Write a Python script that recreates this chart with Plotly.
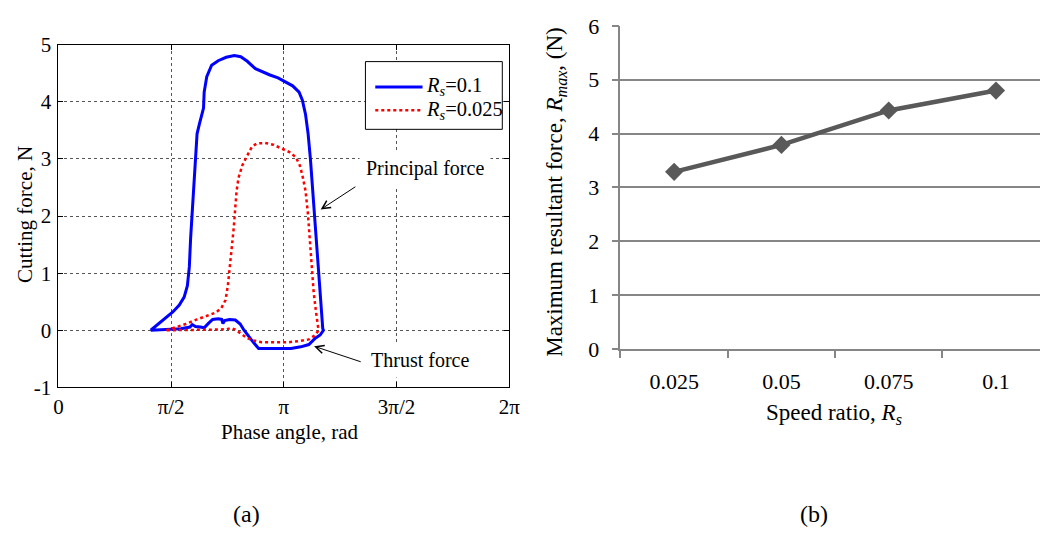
import math
import plotly.graph_objects as go

W, H = 1051, 543


def px(x):
    return x / W


def py(y):
    return 1 - y / H


# ---------------- data: (a) cutting force vs phase angle ----------------
# R_s = 0.1 : principal force (upper branch), then thrust force (lower branch, going back)
blue_principal_phase = [1.286, 1.368, 1.48, 1.594, 1.684, 1.752, 1.797, 1.824, 1.842, 1.865, 1.887,
                        1.91, 1.932, 1.964, 1.991, 2.022, 2.031, 2.067, 2.135, 2.226, 2.338, 2.451,
                        2.541, 2.632, 2.745, 2.835, 2.948, 3.061, 3.151, 3.264, 3.354, 3.40, 3.444,
                        3.48, 3.512, 3.544, 3.571, 3.602, 3.634, 3.661, 3.684]
blue_principal_force = [0.0, 0.083, 0.19, 0.32, 0.44, 0.58, 0.78, 1.11, 1.61, 2.11, 2.67,
                        3.17, 3.44, 3.61, 3.75, 3.89, 4.17, 4.44, 4.64, 4.72, 4.78, 4.81,
                        4.79, 4.71, 4.58, 4.53, 4.47, 4.42, 4.36, 4.28, 4.17, 4.03, 3.78,
                        3.44, 3.0, 2.44, 1.89, 1.33, 0.78, 0.33, 0.03]
blue_thrust_phase = [3.693, 3.648, 3.58, 3.49, 3.377, 3.242, 3.061, 2.926, 2.79, 2.722, 2.654,
                     2.587, 2.533, 2.465, 2.384, 2.316, 2.293, 2.275, 2.226, 2.149, 2.09, 2.031,
                     1.977, 1.91, 1.865, 1.833, 1.706, 1.526, 1.368, 1.286]
blue_thrust_force = [0.0, -0.083, -0.14, -0.25, -0.29, -0.32, -0.32, -0.32, -0.32, -0.22, -0.11,
                     0.0, 0.11, 0.18, 0.19, 0.17, 0.12, 0.19, 0.2, 0.19, 0.12, 0.044,
                     0.056, 0.067, 0.1, 0.056, 0.028, 0.017, 0.011, 0.0]

# R_s = 0.025
red_principal_phase = [1.503, 1.616, 1.774, 1.932, 2.09, 2.194, 2.271, 2.329, 2.361, 2.384, 2.415,
                       2.442, 2.465, 2.483, 2.51, 2.564, 2.632, 2.70, 2.767, 2.88, 2.993, 3.106,
                       3.219, 3.309, 3.363, 3.399, 3.444, 3.476, 3.503, 3.526, 3.557, 3.589,
                       3.612, 3.625]
red_principal_force = [0.0, 0.044, 0.11, 0.19, 0.26, 0.31, 0.39, 0.53, 0.78, 1.11, 1.44,
                       1.78, 2.11, 2.44, 2.67, 2.89, 3.06, 3.22, 3.27, 3.28, 3.25, 3.19,
                       3.12, 3.03, 2.89, 2.72, 2.44, 2.06, 1.61, 1.11, 0.67, 0.33,
                       0.083, 0.0]
red_thrust_phase = [3.58, 3.49, 3.354, 3.196, 3.016, 2.835, 2.722, 2.632, 2.542, 2.465, 2.406,
                    2.338, 2.158, 1.932, 1.706, 1.503]
red_thrust_force = [-0.083, -0.16, -0.19, -0.21, -0.21, -0.21, -0.18, -0.14, -0.056, 0.011, 0.039,
                    0.017, 0.011, 0.011, 0.006, 0.0]

phase_tick_vals = [0, math.pi / 2, math.pi, 3 * math.pi / 2, 2 * math.pi]
phase_tick_text = ["0", "π/2", "π", "3π/2", "2π"]
force_tick_vals = [-1, 0, 1, 2, 3, 4, 5]
force_tick_text = ["-1", "0", "1", "2", "3", "4", "5"]

# ---------------- data: (b) max resultant force vs speed ratio ----------------
speed_ratio = ["0.025", "0.05", "0.075", "0.1"]
max_resultant_force = [3.29, 3.79, 4.43, 4.80]

FONT = "Liberation Serif"
GRID_GRAY = "#868686"
DARK = "#595959"
FS_A = 21      # panel (a) font size
FS_B = 22      # panel (b) tick font size
FS_B_T = 23    # panel (b) title font size

fig = go.Figure()

fig.add_trace(go.Scatter(
    x=blue_principal_phase + blue_thrust_phase,
    y=blue_principal_force + blue_thrust_force,
    mode="lines", line=dict(color="#0000ff", width=3),
    xaxis="x", yaxis="y", showlegend=False, name="R_s=0.1"))
fig.add_trace(go.Scatter(
    x=red_principal_phase + red_thrust_phase,
    y=red_principal_force + red_thrust_force,
    mode="lines", line=dict(color="#ff0000", width=2.5, dash="dot"),
    xaxis="x", yaxis="y", showlegend=False, name="R_s=0.025"))
fig.add_trace(go.Scatter(
    x=speed_ratio, y=max_resultant_force,
    mode="lines+markers", line=dict(color=DARK, width=4.5),
    marker=dict(symbol="diamond", size=14, color=DARK),
    xaxis="x2", yaxis="y2", showlegend=False, cliponaxis=False))

left_axis_common = dict(
    showline=True, linecolor="black", linewidth=1, mirror="ticks",
    ticks="inside", ticklen=5, tickcolor="black",
    showgrid=True, gridcolor="#555555", gridwidth=1, griddash="dot",
    zeroline=False, tickfont=dict(family=FONT, size=FS_A, color="black"),
)

fig.update_layout(
    width=W, height=H,
    margin=dict(l=0, r=0, t=0, b=0),
    paper_bgcolor="white", plot_bgcolor="white",
    showlegend=False,
    font=dict(family=FONT, color="black"),
    xaxis=dict(domain=[px(54.3), px(512)], range=[0, 2 * math.pi], anchor="y",
               tickvals=phase_tick_vals, ticktext=phase_tick_text, ticklabelstandoff=0,
               **left_axis_common),
    yaxis=dict(domain=[py(393.5), py(34.3)], range=[-1, 5], anchor="x",
               tickvals=force_tick_vals, ticktext=force_tick_text, ticklabelstandoff=2,
               **left_axis_common),
    xaxis2=dict(domain=[px(625), 1.0], type="category", range=[-0.5, 3.41], anchor="y2",
                tickson="boundaries", ticks="outside", ticklen=7, tickcolor=GRID_GRAY, tickwidth=1.5,
                showline=True, linecolor=GRID_GRAY, linewidth=1.5, showgrid=False, zeroline=False,
                ticklabelstandoff=12,
                tickfont=dict(family=FONT, size=FS_B, color="black")),
    yaxis2=dict(domain=[py(353.3), py(14.6)], range=[0, 6], dtick=1, anchor="x2",
                ticks="outside", ticklen=7, tickcolor=GRID_GRAY, tickwidth=1.5,
                showline=True, linecolor=GRID_GRAY, linewidth=1.5,
                showgrid=True, gridcolor=GRID_GRAY, gridwidth=1.5, zeroline=False,
                ticklabelstandoff=8,
                tickfont=dict(family=FONT, size=FS_B, color="black")),
)

# ---------------- manual legend for (a) ----------------
shapes = [
    dict(type="rect", xref="paper", yref="paper", x0=px(366), x1=px(505), y0=py(123), y1=py(52),
         line=dict(color="black", width=1), fillcolor="white", layer="above"),
    dict(type="line", xref="paper", yref="paper", x0=px(376), x1=px(424), y0=py(78.5), y1=py(78.5),
         line=dict(color="#0000ff", width=3), layer="above"),
    dict(type="line", xref="paper", yref="paper", x0=px(376), x1=px(424), y0=py(103), y1=py(103),
         line=dict(color="#ff0000", width=2.5, dash="dot"), layer="above"),
]
fig.update_layout(shapes=shapes)

ann = []
ann.append(dict(xref="paper", yref="paper", x=px(425), y=py(78.5), xanchor="left", yanchor="middle",
                text="<i>R</i><sub><i>s</i></sub>=0.1", showarrow=False,
                font=dict(family=FONT, size=20.5, color="black")))
ann.append(dict(xref="paper", yref="paper", x=px(425), y=py(103), xanchor="left", yanchor="middle",
                text="<i>R</i><sub><i>s</i></sub>=0.025", showarrow=False,
                font=dict(family=FONT, size=20.5, color="black")))

# labels with arrows
ann.append(dict(xref="paper", yref="paper", x=px(426), y=py(164), xanchor="center", yanchor="middle",
                text="Principal force", showarrow=False, bgcolor="white", borderpad=6,
                font=dict(family=FONT, size=20, color="black")))
ann.append(dict(xref="paper", yref="paper", x=px(421), y=py(365), xanchor="center", yanchor="middle",
                text="Thrust force", showarrow=False, bgcolor="white", borderpad=6,
                font=dict(family=FONT, size=20, color="black")))
ann.append(dict(xref="x", yref="y", x=3.655, y=2.115, axref="x", ayref="y", ax=4.16, ay=2.53,
                text="", showarrow=True, arrowhead=5, arrowsize=1.6, arrowwidth=1, arrowcolor="black"))
ann.append(dict(xref="x", yref="y", x=3.563, y=-0.28, axref="x", ayref="y", ax=4.234, ay=-0.56,
                text="", showarrow=True, arrowhead=5, arrowsize=1.6, arrowwidth=1, arrowcolor="black"))

# axis titles
ann.append(dict(xref="paper", yref="paper", x=px(21), y=py(212), xanchor="center", yanchor="middle",
                text="Cutting force, N", textangle=-90, showarrow=False,
                font=dict(family=FONT, size=FS_A, color="black")))
ann.append(dict(xref="paper", yref="paper", x=px(289), y=py(440), xanchor="center", yanchor="middle",
                text="Phase angle, rad", showarrow=False,
                font=dict(family=FONT, size=FS_A, color="black")))
ann.append(dict(xref="paper", yref="paper", x=px(560), y=py(188), xanchor="center", yanchor="middle",
                text="Maximum resultant force, <i>R</i><sub><i>max</i></sub>, (N)", textangle=-90,
                showarrow=False, font=dict(family=FONT, size=FS_B_T, color="black")))
ann.append(dict(xref="paper", yref="paper", x=px(842), y=py(421), xanchor="center", yanchor="middle",
                text="Speed ratio, <i>R</i><sub><i>s</i></sub>", showarrow=False,
                font=dict(family=FONT, size=FS_B_T, color="black")))

# panel labels
ann.append(dict(xref="paper", yref="paper", x=px(245), y=py(526), xanchor="center", yanchor="middle",
                text="(a)", showarrow=False, font=dict(family=FONT, size=24, color="black")))
ann.append(dict(xref="paper", yref="paper", x=px(822), y=py(526), xanchor="center", yanchor="middle",
                text="(b)", showarrow=False, font=dict(family=FONT, size=24, color="black")))

fig.update_layout(annotations=ann)

fig.write_html("out.html")
